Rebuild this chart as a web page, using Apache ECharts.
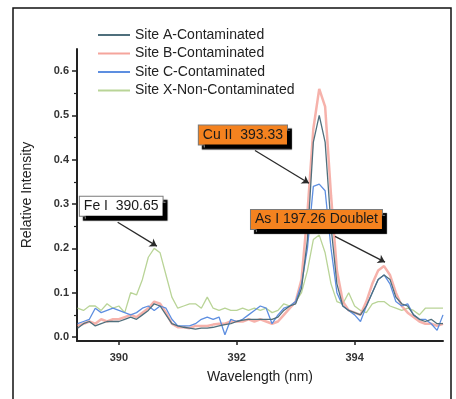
<!DOCTYPE html>
<html>
<head>
<meta charset="utf-8">
<script src="https://cdn.jsdelivr.net/npm/echarts@6/dist/echarts.min.js"></script>
<style>
  html, body { margin: 0; padding: 0; background: #fff; }
  #chart { width: 456px; height: 399px; }
</style>
</head>
<body>
<div id="chart"></div>
<script>
// wavelength samples (nm)
const wavelengths = [
  389.3, 389.4, 389.5, 389.6, 389.7, 389.8, 389.9, 390.0, 390.1, 390.2,
  390.3, 390.4, 390.5, 390.6, 390.7, 390.8, 390.9, 391.0, 391.1, 391.2,
  391.3, 391.4, 391.5, 391.6, 391.7, 391.8, 391.9, 392.0, 392.1, 392.2,
  392.3, 392.4, 392.5, 392.6, 392.7, 392.8, 392.9, 393.0, 393.1, 393.2,
  393.3, 393.4, 393.5, 393.6, 393.7, 393.8, 393.9, 394.0, 394.1, 394.2,
  394.3, 394.4, 394.5, 394.6, 394.7, 394.8, 394.9, 395.0, 395.1, 395.2,
  395.3, 395.4, 395.5
]

const siteA = [
  0.02, 0.03, 0.035, 0.025, 0.03, 0.035, 0.035, 0.035, 0.04, 0.045,
  0.04, 0.05, 0.06, 0.075, 0.07, 0.05, 0.03, 0.025, 0.022, 0.02,
  0.018, 0.02, 0.02, 0.022, 0.025, 0.028, 0.03, 0.035, 0.038, 0.04,
  0.04, 0.04, 0.04, 0.04, 0.045, 0.06, 0.07, 0.075, 0.11, 0.22,
  0.44, 0.50, 0.44, 0.25, 0.12, 0.07, 0.06, 0.055, 0.05, 0.07,
  0.10, 0.13, 0.14, 0.13, 0.09, 0.075, 0.07, 0.05, 0.04, 0.035,
  0.04, 0.03, 0.03
]

const siteB = [
  0.025, 0.03, 0.035, 0.03, 0.04, 0.035, 0.04, 0.04, 0.045, 0.05,
  0.045, 0.055, 0.065, 0.08, 0.075, 0.055, 0.03, 0.022, 0.022, 0.02,
  0.025, 0.025, 0.025, 0.028, 0.03, 0.03, 0.035, 0.035, 0.035, 0.04,
  0.035, 0.04, 0.035, 0.03, 0.035, 0.05, 0.065, 0.08, 0.13, 0.28,
  0.47, 0.56, 0.52, 0.32, 0.15, 0.08, 0.06, 0.055, 0.05, 0.08,
  0.12, 0.15, 0.16, 0.14, 0.10, 0.07, 0.055, 0.045, 0.035, 0.03,
  0.03, 0.025, 0.03
]

const siteC = [
  0.03, 0.035, 0.04, 0.065, 0.055, 0.06, 0.065, 0.06, 0.055, 0.05,
  0.055, 0.065, 0.07, 0.06, 0.07, 0.065, 0.04, 0.025, 0.025, 0.025,
  0.03, 0.04, 0.045, 0.04, 0.045, 0.005, 0.04, 0.035, 0.04, 0.05,
  0.06, 0.07, 0.065, 0.03, 0.05, 0.065, 0.07, 0.08, 0.12, 0.20,
  0.34, 0.345, 0.33, 0.20, 0.10, 0.07, 0.06, 0.05, 0.035, 0.07,
  0.10, 0.13, 0.14, 0.12, 0.08, 0.07, 0.075, 0.05, 0.04, 0.04,
  0.03, 0.015, 0.05
]

const siteX = [
  0.065, 0.06, 0.07, 0.07, 0.06, 0.075, 0.065, 0.07, 0.055, 0.10,
  0.095, 0.13, 0.18, 0.20, 0.19, 0.14, 0.09, 0.065, 0.07, 0.075,
  0.075, 0.065, 0.09, 0.065, 0.06, 0.065, 0.06, 0.06, 0.065, 0.06,
  0.065, 0.06, 0.065, 0.055, 0.06, 0.075, 0.07, 0.08, 0.10, 0.15,
  0.22, 0.23, 0.19, 0.12, 0.08, 0.075, 0.10, 0.07, 0.06, 0.055,
  0.075, 0.08, 0.08, 0.07, 0.065, 0.06, 0.065, 0.06, 0.05, 0.065,
  0.065, 0.065, 0.065
]

const xTicks = [390, 392, 394]
const yTicks = [0, 0.1, 0.2, 0.3, 0.4, 0.5, 0.6]
const yMinorTicks = [0.05, 0.15, 0.25, 0.35, 0.45, 0.55]

const seriesNames = [
  'Site A-Contaminated',
  'Site B-Contaminated',
  'Site C-Contaminated',
  'Site X-Non-Contaminated',
]

const pairs = (vals) => wavelengths.map((w, i) => [w, vals[i]])

const chart = echarts.init(document.getElementById('chart'))

const fontFamily = 'Liberation Sans, Arial, sans-serif'

const labelBox = (bg) => ({
  show: true,
  position: 'inside',
  formatter: '{b}',
  color: '#1a1a1a',
  fontSize: 14,
  fontFamily,
  backgroundColor: bg,
  borderColor: '#7a7a7a',
  borderWidth: 1,
  padding: [3, 4, 2, 4],
  shadowColor: '#000',
  shadowOffsetX: 4,
  shadowOffsetY: 4,
  shadowBlur: 1,
})

const option = {
  animation: false,
  backgroundColor: '#fff',
  color: ['#4f6f7c', '#f5a59c', '#5d8ee0', '#b9d497'],
  graphic: [
    {
      type: 'rect',
      shape: { x: 13, y: 8, width: 438, height: 400 },
      style: { fill: 'none', stroke: '#111', lineWidth: 1.5 },
      silent: true,
    },
  ],
  legend: {
    data: seriesNames,
    orient: 'vertical',
    left: 98,
    top: 28,
    padding: 0,
    itemWidth: 32,
    itemHeight: 2,
    itemGap: 4.5,
    icon: 'rect',
    textStyle: { color: '#222', fontSize: 14, fontFamily },
  },
  grid: {
    left: 77,
    right: 13,
    top: 49,
    bottom: 58,
  },
  xAxis: {
    type: 'value',
    min: 389.29,
    max: 395.5,
    name: 'Wavelength (nm)',
    nameLocation: 'middle',
    nameGap: 29,
    nameTextStyle: { color: '#222', fontSize: 14, fontFamily },
    axisLine: { show: true, onZero: false, lineStyle: { color: '#222', width: 2 } },
    axisTick: { show: true, customValues: xTicks, length: 4, lineStyle: { color: '#222', width: 1.5 } },
    axisLabel: {
      customValues: xTicks,
      color: '#333',
      fontSize: 11,
      fontWeight: 'bold',
      margin: 11,
    },
    splitLine: { show: false },
  },
  yAxis: [
    {
      type: 'value',
      min: -0.009,
      max: 0.65,
      name: 'Relative Intensity',
      nameLocation: 'middle',
      nameGap: 43,
      nameTextStyle: { color: '#222', fontSize: 14, fontFamily },
      axisLine: { show: true, lineStyle: { color: '#222', width: 2 } },
      axisTick: { show: true, customValues: yTicks, length: 5, lineStyle: { color: '#222', width: 1.5 } },
      axisLabel: {
        customValues: yTicks,
        formatter: (v) => v.toFixed(1),
        color: '#333',
        fontSize: 11,
        fontWeight: 'bold',
        margin: 8,
      },
      splitLine: { show: false },
    },
    {
      type: 'value',
      min: -0.009,
      max: 0.65,
      position: 'left',
      axisLine: { show: false },
      axisTick: { show: true, customValues: yMinorTicks, length: 3, lineStyle: { color: '#222', width: 1.2 } },
      axisLabel: { show: false, customValues: yMinorTicks },
      splitLine: { show: false },
    },
  ],
  series: [
    {
      name: seriesNames[3],
      type: 'line',
      data: pairs(siteX),
      showSymbol: false,
      lineStyle: { width: 1.3, color: '#b9d497' },
      itemStyle: { color: '#b9d497' },
      z: 1,
    },
    {
      name: seriesNames[1],
      type: 'line',
      data: pairs(siteB),
      showSymbol: false,
      lineStyle: { width: 2.5, color: '#f5a59c', opacity: 0.85 },
      itemStyle: { color: '#f5a59c' },
      z: 2,
    },
    {
      name: seriesNames[2],
      type: 'line',
      data: pairs(siteC),
      showSymbol: false,
      lineStyle: { width: 1.3, color: '#5d8ee0' },
      itemStyle: { color: '#5d8ee0' },
      z: 3,
    },
    {
      name: seriesNames[0],
      type: 'line',
      data: pairs(siteA),
      showSymbol: false,
      lineStyle: { width: 1.3, color: '#4f6f7c' },
      itemStyle: { color: '#4f6f7c' },
      z: 4,
      markLine: {
        silent: true,
        symbol: ['none', 'arrow'],
        symbolSize: 7,
        label: { show: false },
        lineStyle: { color: '#2a2a2a', width: 1.3, type: 'solid' },
        data: [
          [{ coord: [389.98, 0.259] }, { coord: [390.645, 0.205] }],
          [{ coord: [392.31, 0.421] }, { coord: [393.226, 0.347] }],
          [{ coord: [393.667, 0.227] }, { coord: [394.516, 0.169] }],
        ],
      },
      markPoint: {
        silent: true,
        symbol: 'rect',
        symbolSize: 1,
        itemStyle: { color: 'transparent' },
        data: [
          { name: 'Fe I  390.65', coord: [390.04, 0.295], label: labelBox('#ffffff') },
          { name: 'Cu II  393.33', coord: [392.105, 0.456], label: labelBox('#f4821f') },
          { name: 'As I 197.26 Doublet', coord: [393.353, 0.265], label: labelBox('#f4821f') },
        ],
      },
    },
  ],
}

chart.setOption(option)
</script>
</body>
</html>
